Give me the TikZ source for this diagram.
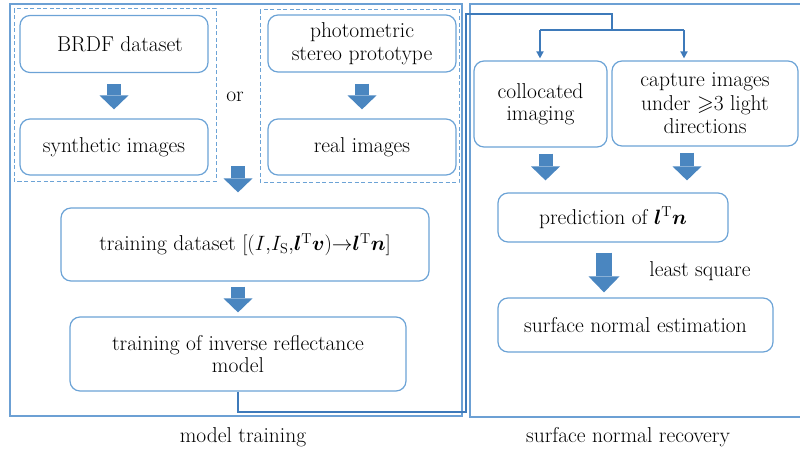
\documentclass[tikz,border=0pt]{standalone}
\usepackage{amssymb}
\usepackage{bm}
\usetikzlibrary{arrows.meta,calc}
\definecolor{boxblue}{RGB}{108,163,214}
\definecolor{frameblue}{RGB}{108,160,212}
\definecolor{arrowblue}{RGB}{74,134,192}
\definecolor{linkblue}{RGB}{62,122,186}
\tikzset{
  every node/.style={font=\fontsize{21.5}{22.5}\selectfont, inner sep=2pt},
  rbox/.style={draw=boxblue, line width=1.2pt, rounded corners=10pt, align=center},
  groupbox/.style={draw=boxblue, dash pattern=on 4pt off 2.5pt, line width=1pt},
  framebox/.style={draw=frameblue, line width=1.4pt},
  blk/.style={draw=arrowblue, line width=14pt,
    -{Triangle[length=14pt,width=29pt,line width=0pt]}},
  conn/.style={draw=linkblue, line width=2pt},
  tipconn/.style={conn, -{Triangle[length=7pt,width=7pt]}},
}
\begin{document}
\begin{tikzpicture}[x=1pt,y=-1pt]
\useasboundingbox (0,0) rectangle (800,452);

% outer frames of the two stages
\draw[framebox] (10,4) rectangle (462,416);
\draw[framebox] (803,4) -- (470,4) -- (470,417) -- (803,417);

% dashed groups: simulated data vs. captured data
\draw[groupbox] (14,9) rectangle (216,181);
\draw[groupbox] (260,10) rectangle (459,182);

% model training stage
\node[rbox, minimum width=188pt, minimum height=57pt] (brdf) at (114,44) {\hspace*{12pt}BRDF dataset};
\node[rbox, minimum width=188pt, minimum height=56pt] (synth) at (114,147) {synthetic images};
\node[rbox, minimum width=188pt, minimum height=57pt] (photo) at (362,43.5) {photometric\\stereo prototype};
\node[rbox, minimum width=188pt, minimum height=56pt] (real) at (362,147) {real images};
\node (orword) at (235,97) {or};
\node[rbox, minimum width=368pt, minimum height=73pt] (tds) at (245,244.5)
  {training dataset $[(I{,}I_{\mathrm S}{,}\bm{l}^{\mathrm T}\bm{v}){\to}\bm{l}^{\mathrm T}\bm{n}]$};
\node[rbox, minimum width=336pt, minimum height=74pt] (model) at (238,354)
  {training of inverse reflectance\\model};

% surface normal recovery stage
\node[rbox, minimum width=133pt, minimum height=86pt] (coll) at (540.5,104) {collocated\\imaging};
\node[rbox, minimum width=186pt, minimum height=85pt,
      font=\fontsize{21.5}{23.5}\selectfont] (capt) at (705,103.5)
  {capture images\\under $\geqslant$3 light\\directions};
\node[rbox, minimum width=230pt, minimum height=49pt] (pred) at (613,217.5)
  {prediction of $\bm{l}^{\mathrm T}\bm{n}$};
\node[rbox, minimum width=275pt, minimum height=54pt] (surf) at (635.5,325)
  {surface normal estimation};
\node (lsq) at (700,271) {least square};

% stage captions
\node (lblTrain) at (243,437) {model training};
\node (lblRecover) at (628,437) {surface normal recovery};

% block arrows
\draw[blk, shorten <=11pt, shorten >=9pt] (brdf) -- (synth);
\draw[blk, shorten <=11pt, shorten >=9pt] (photo) -- (real);
\coordinate (merge) at (238,166);
\draw[blk, shorten >=15pt] (merge) -- (merge |- tds.north);
\draw[blk, shorten <=5pt, shorten >=4pt] (model.north |- tds.south) -- (model.north);
\draw[blk, shorten <=6pt, shorten >=12pt] ([xshift=5pt]coll.south) -- ([xshift=5pt]coll.south |- pred.north);
\draw[blk, shorten <=6pt, shorten >=12pt] ([xshift=-18pt]capt.south) -- ([xshift=-18pt]capt.south |- pred.north);
\draw[blk, line width=16pt, -{Triangle[length=16pt,width=31pt,line width=0pt]},
      shorten <=10pt, shorten >=5pt] ([xshift=-9pt]pred.south) -- ([xshift=-9pt]pred.south |- surf.north);

% trained model feeds the recovery stage
\coordinate (c1) at (466,412);
\coordinate (c2) at (466,14);
\coordinate (busC) at (612,30);
\coordinate (busL) at (540,30);
\coordinate (busR) at (684,30);
\draw[conn] (model.south) |- (c1) -- (c2) -| (busC);
\draw[conn] (busL) -- (busR);
\draw[tipconn, shorten >=2pt] (busL) -- (busL |- coll.north);
\draw[tipconn, shorten >=2pt] (busR) -- (busR |- capt.north);
\end{tikzpicture}
\end{document}
